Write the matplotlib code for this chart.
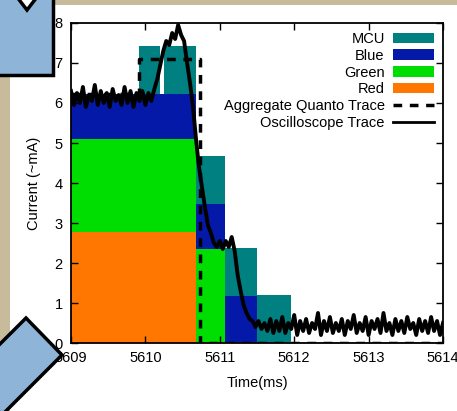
import numpy as np
import matplotlib
matplotlib.use("Agg")
import matplotlib.pyplot as plt
from matplotlib.patches import Rectangle, Polygon, Patch
from matplotlib.lines import Line2D

plt.rcParams['font.family'] = ['Liberation Sans', 'DejaVu Sans']

# periodos de la traza de Quanto (ms)
period_start = [5609.0, 5610.68, 5611.07, 5611.5]
period_end = [5610.68, 5611.07, 5611.5, 5611.96]
red = [2.78, 0.0, 0.0, 0.0]
green = [2.31, 2.35, 0.0, 0.0]
blue = [1.13, 1.125, 1.18, 0.0]

# MCU (con un hueco en el primer periodo)
mcu_start = [5609.91, 5610.25, 5610.68, 5611.07, 5611.5]
mcu_end = [5610.19, 5610.68, 5611.07, 5611.5, 5611.96]
mcu_period = [0, 0, 1, 2, 3]
mcu = [1.2, 1.2, 1.19, 1.19, 1.21]

# traza agregada de Quanto (escalones)
quanto_t = [5609.0, 5609.91, 5610.73, 5614.0]
quanto_v = [6.22, 7.09, 0.0, 0.0]

# traza del osciloscopio, muestreada cada 0.04 ms
trace_v = [
    6.30, 5.95, 6.25, 6.00, 6.40, 5.90, 6.20, 6.05, 6.45, 5.95,
    6.30, 6.00, 6.25, 5.90, 6.35, 6.05, 6.20, 5.95, 6.40, 6.00,
    6.30, 5.90, 6.25, 6.05, 6.30, 5.95, 6.25, 6.05, 6.35, 6.60,
    6.95, 7.30, 7.55, 7.45, 7.75, 7.60, 7.95, 7.70, 7.55, 7.00,
    6.50, 5.90, 5.10, 4.40, 3.90, 3.40, 2.95, 2.75, 2.50, 2.40,
    2.55, 2.35, 2.55, 2.40, 2.65, 2.30, 1.70, 1.30, 0.95, 0.75,
    0.60, 0.55, 0.40, 0.55, 0.35, 0.50, 0.30, 0.60, 0.25, 0.55,
    0.30, 0.65, 0.25, 0.50, 0.35, 0.70, 0.20, 0.55, 0.30, 0.60,
    0.25, 0.50, 0.35, 0.75, 0.20, 0.55, 0.30, 0.65, 0.25, 0.50,
    0.30, 0.60, 0.20, 0.55, 0.35, 0.70, 0.25, 0.50, 0.30, 0.65,
    0.20, 0.55, 0.35, 0.60, 0.25, 0.75, 0.30, 0.50, 0.20, 0.60,
    0.30, 0.55, 0.25, 0.65, 0.35, 0.50, 0.20, 0.60, 0.30, 0.55,
    0.25, 0.65, 0.30, 0.55, 0.20, 0.50,
]
trace_t = np.round(5609.0 + 0.04 * np.arange(len(trace_v)), 2)

x_ticks = [5609, 5610, 5611, 5612, 5613, 5614]
x_tick_labels = ['5609', '5610', '5611', '5612', '5613', '5614']
y_ticks = [0, 1, 2, 3, 4, 5, 6, 7, 8]

c_mcu = '#008080'
c_blue = '#0519a8'
c_green = '#00dd00'
c_red = '#ff7700'

W, H = 457, 411
fig = plt.figure(figsize=(W / 100, H / 100), dpi=100)
fig.patch.set_facecolor('#c8bb9c')
fig.add_artist(Rectangle((10 / W, 0), 1, 1 - 5 / H, transform=fig.transFigure,
                         facecolor='white', edgecolor='none', zorder=-10))

ax = fig.add_axes([71 / W, 68 / H, 372 / W, 320 / H])

widths = np.array(period_end) - np.array(period_start)
b_green = np.array(red)
b_blue = b_green + np.array(green)
stack = b_blue + np.array(blue)

ax.bar(period_start, red, width=widths, align='edge', color=c_red, linewidth=0)
ax.bar(period_start, green, width=widths, bottom=b_green, align='edge', color=c_green, linewidth=0)
ax.bar(period_start, blue, width=widths, bottom=b_blue, align='edge', color=c_blue, linewidth=0)
ax.bar(mcu_start, mcu, width=np.array(mcu_end) - np.array(mcu_start),
       bottom=stack[mcu_period], align='edge', color=c_mcu, linewidth=0)

# linea de Red a cero tras el primer periodo
ax.plot([period_end[0], 5614], [0, 0], color=c_red, lw=1.2)

ax.plot(quanto_t, quanto_v, drawstyle='steps-post', color='black', lw=2.5,
        linestyle=(0, (2.5, 2.2)))
ax.plot(trace_t, trace_v, color='black', lw=2.8)

ax.set_xlim(5609, 5614)
ax.set_ylim(0, 8)
ax.set_xticks(x_ticks)
ax.set_xticklabels(x_tick_labels)
ax.set_yticks(y_ticks)
ax.tick_params(direction='in', top=True, right=True, length=5, width=1,
               labelsize=10.5, pad=6)
for s in ax.spines.values():
    s.set_linewidth(1.3)
ax.set_xlabel('Time(ms)', fontsize=10.5, labelpad=8)
ax.set_ylabel('Current (~mA)', fontsize=10.5, labelpad=10)

handles = [
    Patch(facecolor=c_mcu, edgecolor='none', label='MCU'),
    Patch(facecolor=c_blue, edgecolor='none', label='Blue'),
    Patch(facecolor=c_green, edgecolor='none', label='Green'),
    Patch(facecolor=c_red, edgecolor='none', label='Red'),
    Line2D([], [], color='black', lw=2.5, linestyle=(0, (2.5, 2.2)), label='Aggregate Quanto Trace'),
    Line2D([], [], color='black', lw=2, label='Oscilloscope Trace'),
]
ax.legend(handles=handles, loc='upper right', frameon=False, markerfirst=False,
          fontsize=10.5, handlelength=2.8, handleheight=0.7, labelspacing=0.2,
          handletextpad=0.6, borderaxespad=0.3, borderpad=0.3)

# decoraciones de la diapositiva (cajas azules)
def px(x, y):
    return (x / W, 1 - y / H)

box_blue = '#8eb4d8'
fig.add_artist(Polygon([px(-5, -5), px(53, -5), px(53, 75), px(-5, 75)],
                       closed=True, transform=fig.transFigure, facecolor=box_blue,
                       edgecolor='black', lw=2.5, zorder=5))
fig.add_artist(Polygon([px(17, -3), px(27, 10), px(37, -3)], closed=True,
                       transform=fig.transFigure, facecolor='white',
                       edgecolor='black', lw=2.5, zorder=6))
fig.add_artist(Polygon([px(26, 318), px(62, 355), px(2, 415), px(-34, 378)],
                       closed=True, transform=fig.transFigure, facecolor=box_blue,
                       edgecolor='black', lw=2.5, zorder=5))

fig.savefig('out.png', dpi=100)
